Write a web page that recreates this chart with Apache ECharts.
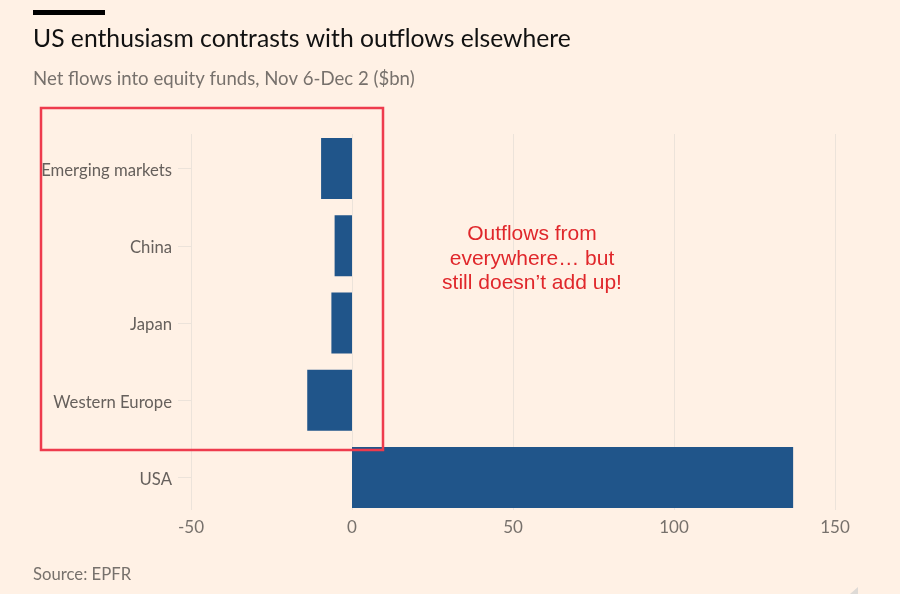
<!DOCTYPE html>
<html>
<head>
<meta charset="utf-8">
<style>
  html, body { margin: 0; padding: 0; background: #fff1e5; }
  #chart { width: 900px; height: 594px; }
</style>
<script src="https://cdn.jsdelivr.net/npm/echarts@6/dist/echarts.min.js"></script>
</head>
<body>
<div id="chart"></div>
<script>
const regions = ['Emerging markets', 'China', 'Japan', 'Western Europe', 'USA'];
const netFlows = [-9.6, -5.4, -6.4, -13.9, 137];
const xMin = -50;
const xMax = 150;
const xStep = 50;

const chart = echarts.init(document.getElementById('chart'));
const fontFamily = 'Lato, "Open Sans", sans-serif';

chart.setOption({
  backgroundColor: '#fff1e5',
  animation: false,
  title: [
    {
      text: 'US enthusiasm contrasts with outflows elsewhere',
      left: 28, top: 22,
      textStyle: { fontFamily: fontFamily, fontSize: 24.7, fontWeight: 'normal', color: '#111' }
    },
    {
      text: 'Net flows into equity funds, Nov 6-Dec 2 ($bn)',
      left: 28, top: 64,
      textStyle: { fontFamily: fontFamily, fontSize: 18.6, fontWeight: 'normal', color: '#77716c' }
    },
    {
      text: 'Source: EPFR',
      left: 28, top: 561,
      textStyle: { fontFamily: fontFamily, fontSize: 16.7, fontWeight: 'normal', color: '#77716c' }
    }
  ],
  // first grid carries the bars, second one only the shorter vertical gridlines
  grid: [
    { left: 191, right: 65, top: 130, height: 386 },
    { left: 191, right: 65, top: 134, height: 376 }
  ],
  xAxis: [
    {
      type: 'value', min: xMin, max: xMax, interval: xStep,
      axisLine: { show: false },
      axisTick: { show: false },
      splitLine: { show: false },
      axisLabel: { margin: 3, fontFamily: fontFamily, fontSize: 17, color: '#77716c' }
    },
    {
      type: 'value', gridIndex: 1, min: xMin, max: xMax, interval: xStep,
      axisLine: { show: false },
      axisTick: { show: false },
      axisLabel: { show: false },
      splitLine: { show: true, lineStyle: { color: '#ece3da', width: 1 } }
    }
  ],
  yAxis: [
    {
      type: 'category',
      data: regions,
      inverse: true,
      axisLine: { show: false, onZero: false },
      axisTick: { show: true, alignWithLabel: true, length: 13, lineStyle: { color: '#ece3da' } },
      axisLabel: {
        margin: 19,
        formatter: '{a|{value}}',
        rich: { a: { padding: [4, 0, 0, 0], fontFamily: fontFamily, fontSize: 16.7, color: '#66605c' } }
      }
    },
    {
      type: 'category', gridIndex: 1, data: regions, show: false
    }
  ],
  series: [{
    type: 'bar',
    data: netFlows,
    barWidth: 61,
    itemStyle: { color: '#20558a' }
  }],
  graphic: [
    // short black rule above the title
    { type: 'rect', shape: { x: 33, y: 10, width: 72, height: 5 }, style: { fill: '#000' } },
    // red highlight box drawn over the chart
    {
      type: 'rect', z: 100,
      shape: { x: 41, y: 108, width: 342, height: 342 },
      style: { fill: 'none', stroke: '#ee3b4d', lineWidth: 2.5 }
    },
    {
      type: 'text', z: 100,
      x: 532, y: 222,
      style: {
        text: 'Outflows from\neverywhere… but\nstill doesn’t add up!',
        textAlign: 'center',
        font: '21px "Liberation Sans", Arial, sans-serif',
        lineHeight: 24.5,
        fill: '#e0272b'
      }
    },
    // faint corner fold at the bottom right of the screenshot
    {
      type: 'polygon',
      shape: { points: [[858, 587], [858, 594], [850, 594]] },
      style: { fill: '#dedad6' }
    }
  ]
});
</script>
</body>
</html>
